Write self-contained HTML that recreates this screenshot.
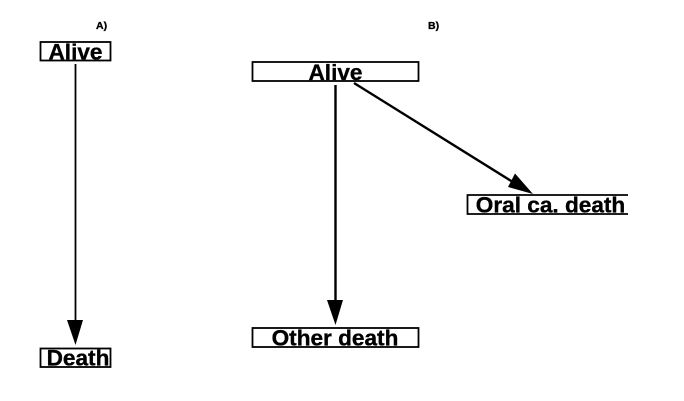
<!DOCTYPE html>
<html>
<head>
<meta charset="utf-8">
<style>
html,body{margin:0;padding:0;background:#fff;width:684px;height:401px;overflow:hidden}
svg{display:block;filter:blur(0.35px)}
text{font-family:"Liberation Sans",sans-serif;font-weight:bold;fill:#000;stroke:#000;stroke-width:0.35px}
</style>
</head>
<body>
<svg width="684" height="401" viewBox="0 0 684 401">
<rect width="684" height="401" fill="#fff"/>
<g fill="none" stroke="#000" stroke-width="1.8">
<rect x="40.5" y="42" width="70" height="18.5"/>
<rect x="40.5" y="348.5" width="70" height="18.5"/>
<rect x="252.5" y="62" width="166" height="19"/>
<rect x="252.5" y="328" width="166" height="19"/>
<path d="M628 195H467.5V214H628"/>
</g>
<g stroke="#000">
<line x1="75.5" y1="64" x2="75.5" y2="322" stroke-width="1.8"/>
<line x1="335.5" y1="85" x2="335.5" y2="302" stroke-width="2.4"/>
<line x1="354" y1="83" x2="516" y2="184" stroke-width="2.4"/>
</g>
<g fill="#000">
<polygon points="67,320 83,320 75.5,345"/>
<polygon points="327,300 343,300 335.5,325"/>
<polygon points="533,194 508,187 515,173.5"/>
</g>
<text x="75.5" y="59.5" font-size="22.6" text-anchor="middle">Alive</text>
<text x="78" y="365.5" font-size="22.6" text-anchor="middle">Death</text>
<text x="335.5" y="80" font-size="22.6" text-anchor="middle">Alive</text>
<text x="335" y="345.5" font-size="22.6" text-anchor="middle">Other death</text>
<text x="550.5" y="212.5" font-size="22.6" text-anchor="middle">Oral ca. death</text>
<text x="96" y="29" font-size="10.5">A)</text>
<text x="428" y="29" font-size="10.5">B)</text>
</svg>
</body>
</html>
